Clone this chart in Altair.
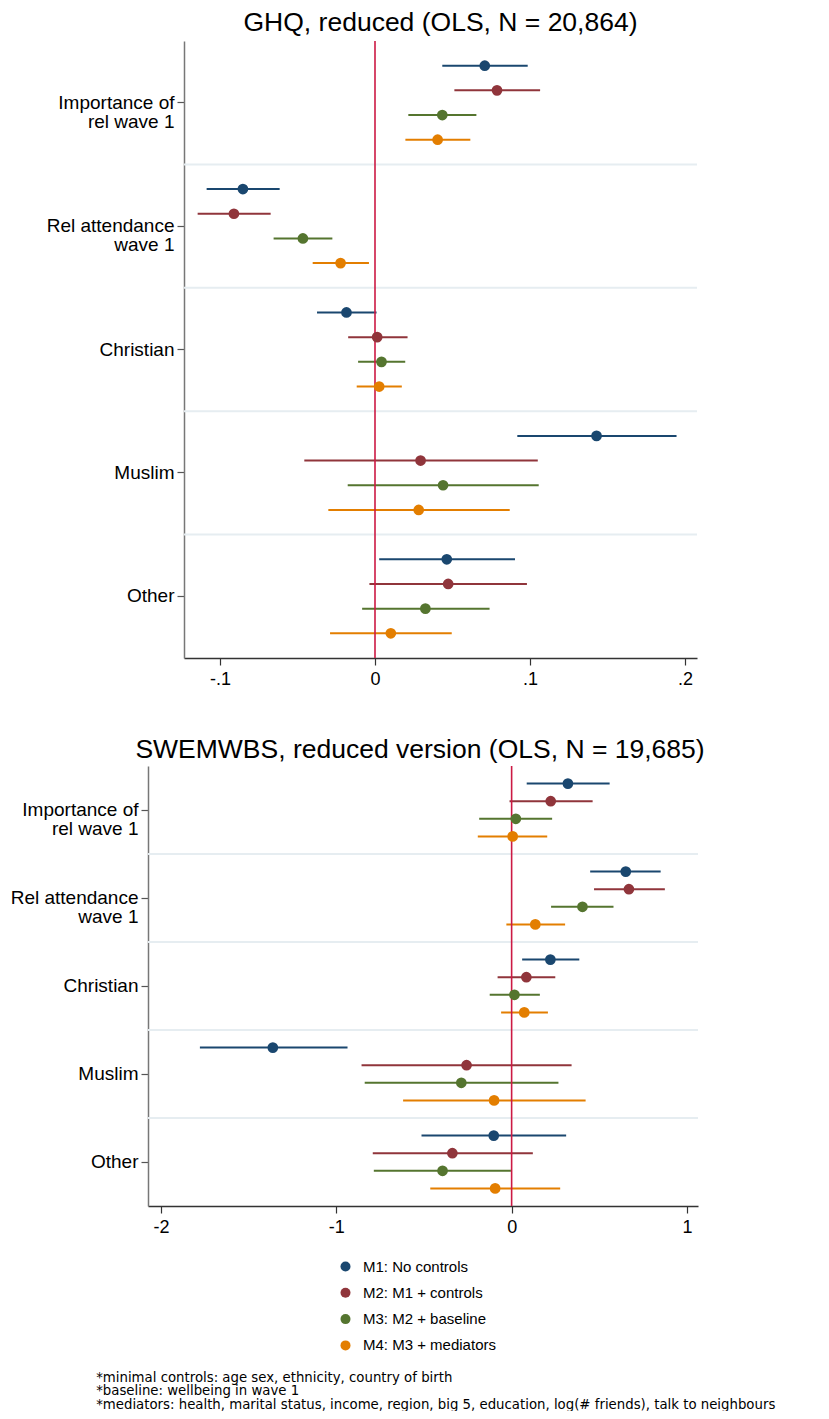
import altair as alt
import pandas as pd

FONT = "Liberation Sans"
NOTE_FONT = "DejaVu Sans"

group_lines = [["Importance of", "rel wave 1"], ["Rel attendance", "wave 1"],
               ["Christian"], ["Muslim"], ["Other"]]
groups = [" ".join(g) for g in group_lines]
models = ["M1: No controls", "M2: M1 + controls", "M3: M2 + baseline", "M4: M3 + mediators"]
colors = ["#1a476f", "#90353b", "#55752f", "#e37e00"]

# GHQ (rows = groups, columns = models)
ghq_coef = [[0.0708, 0.0787, 0.0434, 0.0404],
            [-0.0852, -0.0910, -0.0465, -0.0222],
            [-0.0184, 0.0014, 0.0042, 0.0027],
            [0.1429, 0.0294, 0.0439, 0.0282],
            [0.0463, 0.0472, 0.0325, 0.0102]]
ghq_lo = [[0.0434, 0.0512, 0.0215, 0.0196],
          [-0.1086, -0.1144, -0.0654, -0.0402],
          [-0.0374, -0.0173, -0.0109, -0.0118],
          [0.0918, -0.0456, -0.0176, -0.0301],
          [0.0027, -0.0036, -0.0083, -0.0290]]
ghq_hi = [[0.0985, 0.1065, 0.0654, 0.0615],
          [-0.0615, -0.0673, -0.0275, -0.0039],
          [0.0010, 0.0210, 0.0195, 0.0173],
          [0.1945, 0.1050, 0.1056, 0.0869],
          [0.0903, 0.0980, 0.0739, 0.0495]]

# SWEMWBS
sw_coef = [[0.321, 0.223, 0.024, 0.006],
           [0.651, 0.669, 0.404, 0.135],
           [0.221, 0.084, 0.016, 0.072],
           [-1.362, -0.257, -0.287, -0.100],
           [-0.102, -0.338, -0.394, -0.094]]
sw_lo = [[0.086, -0.012, -0.185, -0.193],
         [0.448, 0.470, 0.225, -0.030],
         [0.060, -0.080, -0.125, -0.060],
         [-1.778, -0.856, -0.838, -0.619],
         [-0.514, -0.792, -0.786, -0.464]]
sw_hi = [[0.559, 0.462, 0.231, 0.203],
         [0.850, 0.874, 0.581, 0.305],
         [0.386, 0.249, 0.161, 0.207],
         [-0.936, 0.342, 0.267, 0.422],
         [0.311, 0.121, -0.004, 0.277]]

ghq_ticks = [-0.1, 0, 0.1, 0.2]
ghq_tick_labels = ["-.1", "0", ".1", ".2"]
ghq_domain = [-0.1232, 0.2077]
sw_ticks = [-2, -1, 0, 1]
sw_tick_labels = ["-2", "-1", "0", "1"]
sw_domain = [-2.074, 1.063]

ghq_title = "GHQ, reduced (OLS, N = 20,864)"
sw_title = "SWEMWBS, reduced version (OLS, N = 19,685)"
notes = ["*minimal controls: age sex, ethnicity, country of birth",
         "*baseline: wellbeing in wave 1",
         "*mediators: health, marital status, income, region, big 5, education, log(# friends), talk to neighbours"]


def frame(coef, lo, hi):
    rows = []
    for gi, g in enumerate(groups):
        for mi, m in enumerate(models):
            rows.append({"group": g, "model": m, "clr": colors[mi], "coef": coef[gi][mi],
                         "lo": lo[gi][mi], "hi": hi[gi][mi]})
    return pd.DataFrame(rows)


def js_list(items):
    return "[" + ", ".join("'" + s + "'" for s in items) + "]"


ylabel_expr = "datum.label"
for name, lines in reversed(list(zip(groups, group_lines))):
    if len(lines) > 1:
        ylabel_expr = f"datum.label == '{name}' ? {js_list(lines)} : {ylabel_expr}"


def xlabel_expr(vals, labs):
    expr = "''"
    for v, l in reversed(list(zip(vals, labs))):
        expr = f"abs(datum.value - ({v})) < 1e-9 ? '{l}' : {expr}"
    return expr


legend = alt.Legend(title=None, orient="none", legendX=154, legendY=1218, direction="vertical",
                    symbolType="circle", symbolSize=100, symbolStrokeWidth=0,
                    labelFontSize=15, labelFont=FONT, labelColor="black",
                    rowPadding=10.3, labelOffset=10, padding=0)


def panel(df, title, domain, ticks, tick_labels, width, height, title_offset, shift_left,
          title_dx):
    y_axis = alt.Axis(title=None, labelExpr=ylabel_expr, labelFontSize=19, labelLineHeight=19,
                      labelFont=FONT, labelColor="black", labelPadding=3, tickSize=7,
                      tickColor="#555555", tickWidth=1.2, domainColor="#777777", domainWidth=1.5,
                      grid=False, labelLimit=300, offset=shift_left)
    x_axis = alt.Axis(title=None, values=ticks, labelExpr=xlabel_expr(ticks, tick_labels),
                      labelFontSize=18, labelFont=FONT, labelColor="black", labelPadding=5,
                      tickSize=7, tickColor="#333333", tickWidth=1.2, domainColor="#333333",
                      domainWidth=1.5, grid=False)
    xscale = alt.Scale(domain=domain, nice=False, zero=False, range=[-shift_left, width])
    yscale = alt.Scale(paddingInner=0, paddingOuter=0)
    y = alt.Y("group:N", sort=groups, scale=yscale, axis=y_axis)
    yo = alt.YOffset("model:N", sort=models, scale=alt.Scale(paddingInner=0, paddingOuter=0.5))

    sep = alt.Chart(pd.DataFrame({"group": groups[1:]})).mark_rule(
        color="#e6edf1", strokeWidth=2).encode(
        x=alt.datum(domain[0], scale=xscale, axis=x_axis), x2=alt.datum(domain[1]),
        y=alt.Y("group:N", sort=groups, scale=yscale, axis=y_axis, bandPosition=0))
    ci = alt.Chart(df).mark_rule(strokeWidth=2).encode(
        x=alt.X("lo:Q", scale=xscale, axis=x_axis), x2="hi:Q", y=y, yOffset=yo,
        stroke=alt.Stroke("clr:N", scale=None))
    zero = alt.Chart(pd.DataFrame({"v": [0]})).mark_rule(color="#cc1a44", strokeWidth=1.6).encode(
        x=alt.X("v:Q", scale=xscale, axis=x_axis))
    pts = alt.Chart(df).mark_circle(size=115, opacity=1).encode(
        x=alt.X("coef:Q", scale=xscale, axis=x_axis), y=y, yOffset=yo,
        color=alt.Color("model:N", scale=alt.Scale(domain=models, range=colors), legend=legend))
    return alt.layer(sep, ci, zero, pts).properties(
        width=width, height=height,
        title=alt.TitleParams(text=title, fontSize=26.5, font=FONT, fontWeight="normal",
                              color="black", anchor="middle", offset=title_offset, dx=title_dx))


top = panel(frame(ghq_coef, ghq_lo, ghq_hi), ghq_title, ghq_domain, ghq_ticks, ghq_tick_labels,
            513, 617, 4, 0, 0)
bottom = panel(frame(sw_coef, sw_lo, sw_hi), sw_title, sw_domain, sw_ticks, sw_tick_labels,
               514, 440, 2, 36, -21)

chart = alt.concat(
    top, bottom,
    columns=1, spacing=48,
    title=alt.TitleParams(text=notes, orient="bottom", anchor="start", fontSize=13.3,
                          font=NOTE_FONT, fontWeight="normal", color="black", lineHeight=13.3,
                          dx=86, offset=17, frame="bounds"),
).resolve_scale(color="shared", yOffset="independent", x="independent",
                y="independent").properties(
    padding={"left": 2, "top": 1, "right": 0, "bottom": 0}
).configure_view(stroke=None)

chart.save("out.html", embed_options={"renderer": "svg", "actions": False})
